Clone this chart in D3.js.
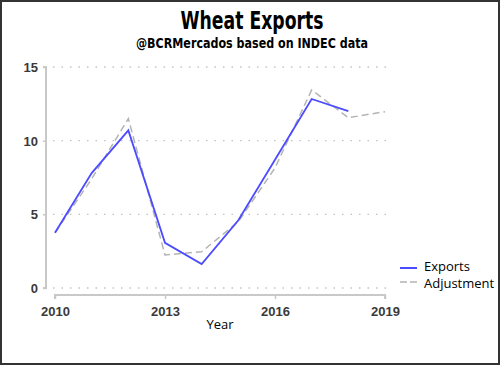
<!DOCTYPE html>
<html>
<head>
<meta charset="utf-8">
<script src="https://cdn.jsdelivr.net/npm/d3@7"></script>
<style>
  body { margin: 0; background: #fff; }
  svg { display: block; }
  .tickText { font-family: "Liberation Sans", Arial, sans-serif; font-size: 13px; font-weight: bold; fill: #3a3a3a; }
  .legendText { font-family: "Open Sans", "Noto Sans", sans-serif; font-size: 13px; fill: #000; }
</style>
</head>
<body>
<svg id="chart" width="500" height="365"></svg>
<script>
const years = [2010, 2011, 2012, 2013, 2014, 2015, 2016, 2017, 2018];
const exportsValues = [3.75, 7.8, 10.7, 3.07, 1.63, 4.6, 8.7, 12.83, 12.0];
const adjYears = [2010, 2011, 2012, 2013, 2014, 2015, 2016, 2017, 2018, 2019];
const adjustmentValues = [3.75, 7.4, 11.5, 2.24, 2.46, 4.5, 8.15, 13.44, 11.56, 11.97];
const xTicks = [2010, 2013, 2016, 2019];
const yTicks = [0, 5, 10, 15];

const svg = d3.select('#chart')

svg.append('rect')
  .attr('x', 1).attr('y', 1)
  .attr('width', 498).attr('height', 363)
  .attr('fill', '#fff')
  .attr('stroke', '#333')
  .attr('stroke-width', 2)

const xscale = d3.scaleLinear()
  .domain([2010, 2019])
  .range([55, 385])

const yscale = d3.scaleLinear()
  .domain([0, 15])
  .range([288, 67])

// dotted grid
svg.append('g')
  .selectAll('line')
  .data(yTicks)
  .enter()
  .append('line')
  .attr('x1', 53)
  .attr('x2', 392)
  .attr('y1', (d) => yscale(d))
  .attr('y2', (d) => yscale(d))
  .attr('stroke', '#c4c4c4')
  .attr('stroke-width', 1.3)
  .attr('stroke-dasharray', '1.5,7')

// y axis
const leftAxis = d3.axisLeft(yscale).tickValues(yTicks).tickSize(3).tickPadding(5)
const gy = svg.append('g')
  .attr('transform', 'translate(46, 0)')
  .call(leftAxis)
gy.select('.domain').attr('stroke', '#c8c8c8').attr('stroke-width', 2)
  .attr('d', `M-3,${yscale(15)}H0V${yscale(0)}H-3`)
gy.selectAll('.tick line').attr('stroke', '#c8c8c8').attr('stroke-width', 1.5)
gy.selectAll('.tick text').attr('class', 'tickText').attr('dy', '0.35em')

// x axis
const bottomAxis = d3.axisBottom(xscale).tickValues(xTicks).tickFormat(d3.format('d')).tickSize(4).tickPadding(6)
const gx = svg.append('g')
  .attr('transform', 'translate(0, 295)')
  .call(bottomAxis)
gx.select('.domain').attr('stroke', '#c8c8c8').attr('stroke-width', 2)
  .attr('d', `M${xscale(2010)},4V0H${xscale(2019)}V4`)
gx.selectAll('.tick line').attr('stroke', '#c8c8c8').attr('stroke-width', 1.5)
gx.selectAll('.tick text').attr('class', 'tickText').attr('dy', '0.85em')

svg.append('text')
  .text('Year')
  .attr('x', 220)
  .attr('y', 329)
  .attr('text-anchor', 'middle')
  .attr('class', 'legendText')

const line = d3.line()
  .x((d) => xscale(d[0]))
  .y((d) => yscale(d[1]))

svg.append('path')
  .datum(d3.zip(adjYears, adjustmentValues))
  .attr('d', line)
  .attr('fill', 'none')
  .attr('stroke', '#b4b4b4')
  .attr('stroke-width', 1.5)
  .attr('stroke-dasharray', '7,4')

svg.append('path')
  .datum(d3.zip(years, exportsValues))
  .attr('d', line)
  .attr('fill', 'none')
  .attr('stroke', '#4b4bff')
  .attr('stroke-width', 1.8)

// legend
const legend = svg.append('g').attr('transform', 'translate(400, 268)')
legend.append('line')
  .attr('x1', 0).attr('x2', 17).attr('y1', 0).attr('y2', 0)
  .attr('stroke', '#4b4bff').attr('stroke-width', 2)
legend.append('text').text('Exports')
  .attr('x', 24).attr('y', 3).attr('class', 'legendText')
legend.append('line')
  .attr('x1', 0).attr('x2', 17).attr('y1', 14).attr('y2', 14)
  .attr('stroke', '#b4b4b4').attr('stroke-width', 1.5)
  .attr('stroke-dasharray', '7,3')
legend.append('text').text('Adjustment')
  .attr('x', 24).attr('y', 20).attr('class', 'legendText')

// titles
svg.append('text')
  .text('Wheat Exports')
  .attr('x', 252)
  .attr('y', 29)
  .attr('text-anchor', 'middle')
  .attr('textLength', 143)
  .attr('lengthAdjust', 'spacingAndGlyphs')
  .style('font-family', '"DejaVu Sans Condensed", "DejaVu Sans", sans-serif')
  .style('font-weight', 'bold')
  .style('font-size', '25px')

svg.append('text')
  .text('@BCRMercados based on INDEC data')
  .attr('x', 252)
  .attr('y', 48)
  .attr('text-anchor', 'middle')
  .attr('textLength', 232)
  .attr('lengthAdjust', 'spacingAndGlyphs')
  .style('font-family', '"DejaVu Sans Condensed", "DejaVu Sans", sans-serif')
  .style('font-weight', 'bold')
  .style('font-size', '14.5px')
</script>
</body>
</html>
